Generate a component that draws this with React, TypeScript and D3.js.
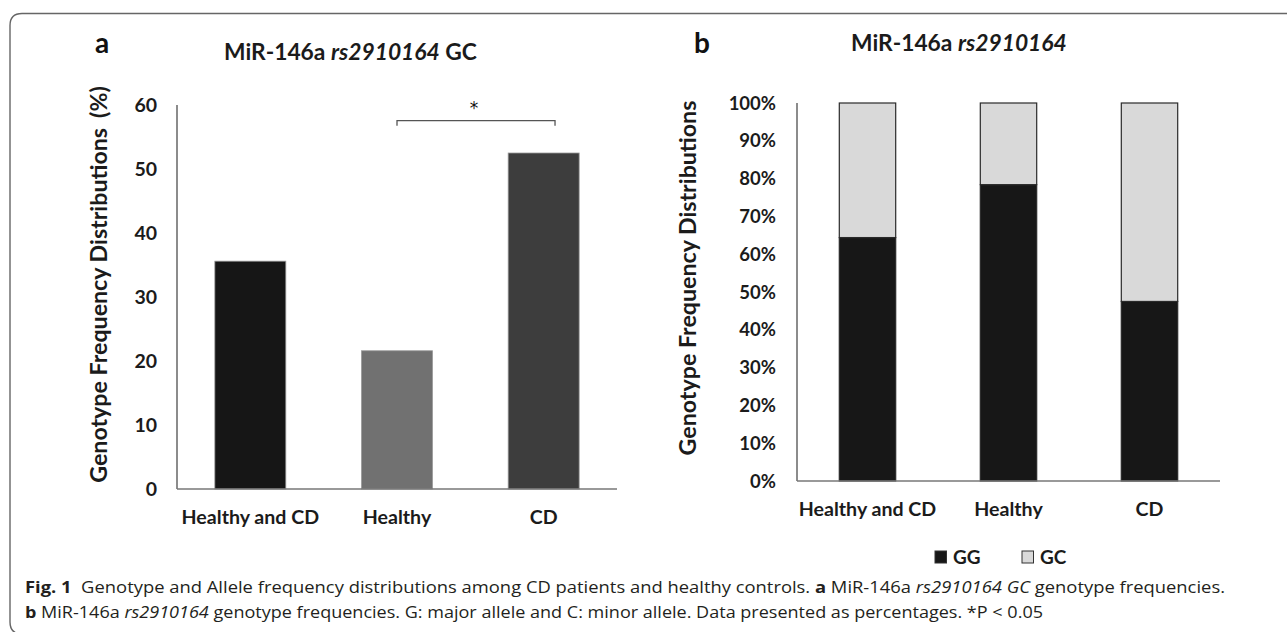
import React from "react";
import * as d3 from "d3";

const categories = ["Healthy and CD", "Healthy", "CD"];
const gcFrequencyA = [35.6, 21.6, 52.5];
const ticksA = [0, 10, 20, 30, 40, 50, 60];
const ggShare = [64.4, 78.4, 47.5];
const gcShare = [35.6, 21.6, 52.5];
const ticksB = [0, 10, 20, 30, 40, 50, 60, 70, 80, 90, 100];
const barColorsA = ["#161616", "#717171", "#3d3d3d"];
const seriesNames = ["GG", "GC"];
const seriesColors = ["#171717", "#d9d9d9"];

const FONT = "Lato, 'Open Sans', sans-serif";
const CAP = "'Open Sans', 'Noto Sans', sans-serif";
const TXT = "#1b1b1b";

export default function App() {
  // Panel a scales
  const xA = d3.scaleBand<string>().domain(categories).range([177, 617]).paddingInner(0.516).paddingOuter(0.258);
  const yA = d3.scaleLinear().domain([0, 60]).range([489, 105]);
  // Panel b scales
  const xB = d3.scaleBand<string>().domain(categories).range([797, 1220]).paddingInner(0.6).paddingOuter(0.3);
  const yB = d3.scaleLinear().domain([0, 100]).range([481, 103]);

  const stackData = categories.map((c, i) => ({ cat: c, GG: ggShare[i], GC: gcShare[i] }));
  const stacked = d3.stack<any>().keys(seriesNames)(stackData);

  const bracketX1 = (xA("Healthy") as number) + xA.bandwidth() / 2;
  const bracketX2 = (xA("CD") as number) + xA.bandwidth() * 0.66;
  const bracketY = yA(57.55);

  return (
    <svg width={1287} height={632} style={{ position: "absolute", left: 0, top: 0, background: "#fff" }}>
      {/* frame */}
      <path d="M 1295 13.5 H 22 Q 10 13.5 10 25.5 V 622 Q 10 634 22 634 H 1295" fill="none" stroke="#666" strokeWidth={1.4} />

      {/* ---------- Panel a ---------- */}
      <text x={95} y={53} fontFamily={FONT} fontWeight={700} fontSize={28} fill="#111">a</text>
      <text x={224} y={59.5} fontFamily={FONT} fontWeight={700} fontSize={22.8} fill={TXT}>
        MiR-146a <tspan fontStyle="italic">rs2910164</tspan> GC
      </text>
      <text transform={`translate(98,284.5) rotate(-90)`} textAnchor="middle" dominantBaseline="central"
        fontFamily={FONT} fontWeight={700} fontSize={23.2} fill={TXT}>
        Genotype Frequency Distributions<tspan dx={10}>(%)</tspan>
      </text>
      {ticksA.map((t) => (
        <text key={t} x={157} y={yA(t)} dy="0.36em" textAnchor="end" fontFamily={FONT} fontWeight={700} fontSize={19.5} fill={TXT}>
          {t}
        </text>
      ))}
      {categories.map((c, i) => (
        <rect key={c} x={xA(c)} y={yA(gcFrequencyA[i])} width={xA.bandwidth()} height={yA(0) - yA(gcFrequencyA[i])}
          fill={barColorsA[i]} stroke="#9a9a9a" strokeWidth={0.8} />
      ))}
      <line x1={177} x2={177} y1={105} y2={489} stroke="#666" strokeWidth={1.5} />
      <line x1={177} x2={617} y1={489} y2={489} stroke="#777" strokeWidth={1.5} />
      {categories.map((c) => (
        <text key={c} x={(xA(c) as number) + xA.bandwidth() / 2} y={517} dy="0.36em" textAnchor="middle"
          fontFamily={FONT} fontWeight={700} fontSize={19.6} fill={TXT}>
          {c}
        </text>
      ))}
      <path d={`M ${bracketX1} ${bracketY + 5} V ${bracketY} H ${bracketX2} V ${bracketY + 5}`} fill="none" stroke="#555" strokeWidth={1.3} />
      <text x={(bracketX1 + bracketX2) / 2 - 2} y={bracketY - 7} textAnchor="middle" fontFamily="'DejaVu Sans', sans-serif" fontSize={17} fill="#111">*</text>

      {/* ---------- Panel b ---------- */}
      <text x={694} y={53} fontFamily={FONT} fontWeight={700} fontSize={28} fill="#111">b</text>
      <text x={851} y={50.5} fontFamily={FONT} fontWeight={700} fontSize={22.8} fill={TXT}>
        MiR-146a <tspan fontStyle="italic">rs2910164</tspan>
      </text>
      <text transform={`translate(687,278) rotate(-90)`} textAnchor="middle" dominantBaseline="central"
        fontFamily={FONT} fontWeight={700} fontSize={23.2} fill={TXT}>
        Genotype Frequency Distributions
      </text>
      {ticksB.map((t) => (
        <text key={t} x={776} y={yB(t)} dy="0.36em" textAnchor="end" fontFamily={FONT} fontWeight={700} fontSize={18.5} fill={TXT}>
          {t}%
        </text>
      ))}
      {stacked.map((s, si) =>
        s.map((d: any) => (
          <rect key={seriesNames[si] + d.data.cat} x={xB(d.data.cat)} y={yB(d[1])} width={xB.bandwidth()}
            height={yB(d[0]) - yB(d[1])} fill={seriesColors[si]} stroke="#2a2a2a" strokeWidth={1.2} />
        ))
      )}
      <line x1={797} x2={797} y1={103} y2={481} stroke="#666" strokeWidth={1.5} />
      <line x1={797} x2={1220} y1={481} y2={481} stroke="#777" strokeWidth={1.5} />
      {categories.map((c) => (
        <text key={c} x={(xB(c) as number) + xB.bandwidth() / 2} y={509} dy="0.36em" textAnchor="middle"
          fontFamily={FONT} fontWeight={700} fontSize={19.6} fill={TXT}>
          {c}
        </text>
      ))}
      {/* legend */}
      {seriesNames.map((n, i) => (
        <g key={n} transform={`translate(${935 + i * 87},557)`}>
          <rect x={0} y={-6} width={11.5} height={12} fill={seriesColors[i]} stroke="#333" strokeWidth={1} />
          <text x={18} y={0} dy="0.36em" fontFamily={FONT} fontWeight={700} fontSize={19} fill={TXT}>{n}</text>
        </g>
      ))}

      {/* ---------- Caption ---------- */}
      <text x={25} y={593} fontFamily={CAP} fontSize={15.5} fill="#231f20" textLength={1200} lengthAdjust="spacingAndGlyphs">
        <tspan fontWeight={700}>Fig. 1</tspan>
        <tspan dx={8}>Genotype and Allele frequency distributions among CD patients and healthy controls. </tspan>
        <tspan fontWeight={700}>a</tspan>
        <tspan> MiR-146a </tspan>
        <tspan fontStyle="italic">rs2910164 GC</tspan>
        <tspan> genotype frequencies.</tspan>
      </text>
      <text x={25} y={618} fontFamily={CAP} fontSize={15.5} fill="#231f20" textLength={1018} lengthAdjust="spacingAndGlyphs">
        <tspan fontWeight={700}>b</tspan>
        <tspan> MiR-146a </tspan>
        <tspan fontStyle="italic">rs2910164</tspan>
        <tspan> genotype frequencies. G: major allele and C: minor allele. Data presented as percentages. *P {"<"} 0.05</tspan>
      </text>
    </svg>
  );
}
